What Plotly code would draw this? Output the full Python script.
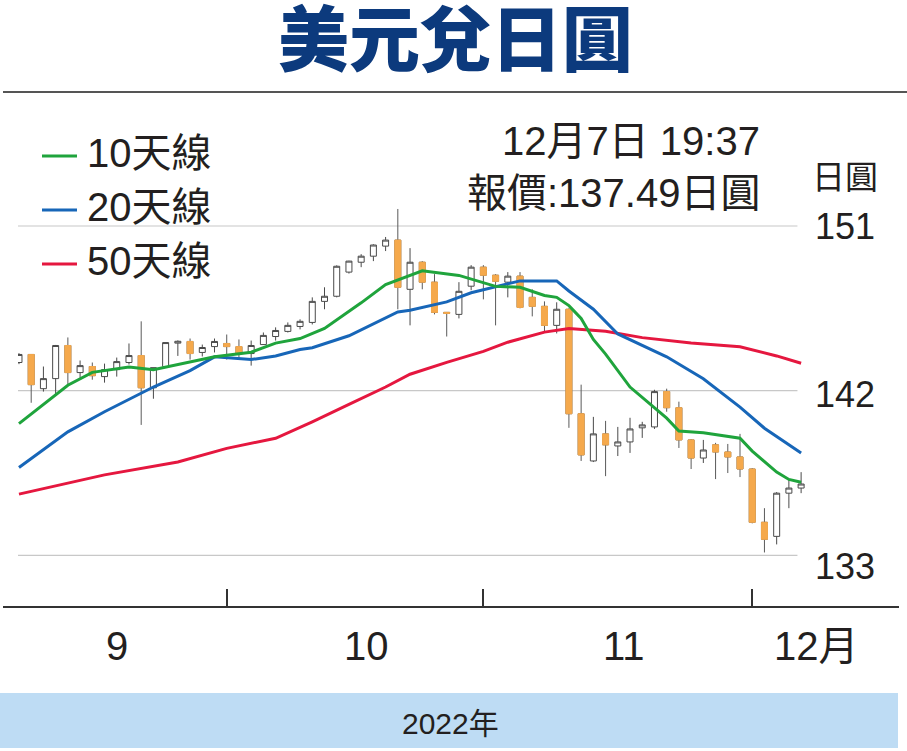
import pandas as pd
import plotly.graph_objects as go

# trading days shown: 8 Sep 2022 - 7 Dec 2022
DATES = pd.bdate_range("2022-09-08", "2022-12-07")

OPEN = [143.54, 143.98, 142.11, 142.66, 144.47, 142.99, 143.32, 142.77, 143.15, 143.54,
        143.92, 142.16, 143.32, 144.60, 144.69, 144.09, 144.41, 144.58, 144.41, 144.03,
        144.52, 144.96, 145.24, 145.51, 145.73, 146.88, 147.16, 148.48, 149.02, 149.35,
        149.90, 150.23, 147.54, 149.02, 147.93, 146.28, 146.17, 147.71, 148.75, 148.31,
        147.93, 148.26, 147.10, 146.61, 145.57, 146.45, 140.74, 138.16, 139.64, 138.98,
        139.20, 139.97, 140.02, 141.95, 141.07, 139.31, 138.32, 139.04, 138.65, 138.38,
        137.72, 134.81, 134.04, 136.40, 136.68]
HIGH = [144.05, 144.00, 143.32, 144.50, 144.91, 143.65, 143.54, 143.48, 143.81, 144.58,
        145.79, 143.26, 144.63, 144.75, 144.85, 144.52, 144.85, 145.07, 144.80, 144.74,
        145.18, 145.46, 145.73, 145.90, 147.10, 147.65, 148.85, 149.10, 149.46, 150.00,
        150.40, 151.93, 149.79, 149.08, 148.37, 146.30, 147.93, 148.86, 148.86, 148.37,
        148.48, 148.48, 147.54, 146.88, 146.83, 146.50, 142.33, 140.57, 140.35, 140.02,
        140.52, 140.30, 142.05, 142.11, 141.40, 139.35, 139.31, 139.15, 139.09, 139.64,
        137.77, 135.58, 136.46, 137.12, 137.55]
LOW = [143.45, 141.34, 141.95, 141.78, 142.33, 142.71, 142.60, 142.44, 142.77, 143.43,
       140.13, 141.56, 143.30, 143.90, 143.70, 143.87, 144.09, 143.70, 143.70, 143.37,
       144.50, 144.74, 145.18, 145.35, 145.62, 146.45, 147.10, 148.40, 148.75, 149.08,
       149.63, 146.45, 145.57, 147.54, 146.17, 144.96, 145.95, 147.49, 146.99, 145.57,
       147.10, 146.50, 146.06, 145.24, 145.13, 139.97, 138.16, 138.10, 137.33, 138.43,
       138.60, 139.42, 139.91, 140.85, 138.87, 137.72, 138.05, 137.17, 137.50, 137.28,
       134.75, 133.16, 133.60, 135.58, 136.40]
CLOSE = [143.98, 142.33, 142.66, 144.47, 142.99, 143.37, 142.82, 143.15, 143.59, 143.92,
         142.16, 143.26, 144.63, 144.70, 144.03, 144.36, 144.69, 144.41, 144.03, 144.47,
         145.02, 145.29, 145.57, 145.79, 146.88, 147.16, 148.80, 149.08, 149.35, 149.96,
         150.23, 147.65, 149.02, 147.93, 146.28, 146.23, 147.43, 148.75, 148.31, 147.98,
         148.26, 146.55, 146.61, 145.57, 146.45, 140.74, 138.49, 139.64, 139.04, 139.20,
         139.91, 140.13, 141.95, 141.07, 139.31, 138.32, 138.76, 138.65, 138.38, 137.72,
         134.81, 133.88, 136.40, 136.68, 136.90]

# moving averages, read at these trading-day numbers
MA10_DAY = [0, 4, 6, 9, 11, 14, 16, 19, 21, 23, 25, 28, 30, 33, 36, 39, 41, 43, 44, 45,
            46, 47, 48, 50, 52, 53, 54, 56, 59, 60, 62, 63, 64]
MA10 = [140.2, 142.3, 143.0, 143.3, 143.15, 143.55, 143.85, 144.1, 144.6, 144.85,
        145.4, 146.8, 147.8, 148.55, 148.3, 147.7, 147.65, 147.2, 147.1, 146.65,
        145.95, 144.8, 144.0, 142.2, 141.1, 140.5, 139.8, 139.7, 139.4, 138.7,
        137.55, 137.15, 137.0]
MA20_DAY = [0, 4, 7, 11, 14, 16, 19, 21, 23, 24, 27, 29, 31, 32, 35, 37, 41, 44, 45, 47,
            49, 53, 56, 59, 61, 64]
MA20 = [137.8, 139.75, 140.85, 142.2, 143.1, 143.85, 143.7, 143.9, 144.25, 144.35,
        145.0, 145.65, 146.3, 146.4, 146.85, 147.35, 148.0, 148.0, 147.45, 146.45,
        145.1, 143.85, 142.65, 141.1, 139.95, 138.6]
MA50_DAY = [0, 7, 13, 17, 21, 24, 27, 30, 32, 35, 38, 40, 43, 45, 48, 51, 55, 59, 62, 64]
MA50 = [136.35, 137.4, 138.1, 138.85, 139.4, 140.3, 141.25, 142.2, 142.9, 143.55,
        144.15, 144.65, 145.2, 145.4, 145.25, 144.9, 144.6, 144.4, 143.9, 143.5]

Y_TICKS = [151, 142, 133]
MONTH_LABELS = ["9", "10", "11", "12月"]
TITLE = "美元兌日圓"
STAMP = ["12月7日 19:37", "報價:137.49日圓"]
UNIT = "日圓"
YEAR = "2022年"

# ---- geometry (pixels of the 907x751 page) ----
W, H = 907, 751
ML, MR, MT, MB = 18, 101, 200, 144
PW, PH = W - ML - MR, H - MT - MB


def px(x):
    return (x - ML) / PW


def py(y):
    return (H - MB - y) / PH


FONT = "Liberation Sans, Noto Sans CJK TC, sans-serif"
INK = "#231f20"
ORANGE = "#f5a94c"
GREEN = "#1fa43c"
BLUE = "#1766b8"
RED = "#e5173f"

day = list(range(len(DATES)))
is_down = [c < o for o, c in zip(OPEN, CLOSE)]

fig = go.Figure()

# candles: wicks + outlines
fig.add_trace(go.Candlestick(
    x=day, open=OPEN, high=HIGH, low=LOW, close=CLOSE,
    increasing=dict(line=dict(color="#4a4a4a", width=1), fillcolor="white"),
    decreasing=dict(line=dict(color="#5a5a5a", width=1), fillcolor=ORANGE),
    hoverinfo="skip", showlegend=False,
))
# orange bodies drawn again on top so they have no dark outline
fig.add_trace(go.Candlestick(
    x=day,
    open=[o if d else None for o, d in zip(OPEN, is_down)],
    high=[o if d else None for o, d in zip(OPEN, is_down)],
    low=[c if d else None for c, d in zip(CLOSE, is_down)],
    close=[c if d else None for c, d in zip(CLOSE, is_down)],
    increasing=dict(line=dict(color=ORANGE, width=1), fillcolor=ORANGE),
    decreasing=dict(line=dict(color=ORANGE, width=1), fillcolor=ORANGE),
    hoverinfo="skip", showlegend=False,
))

for name, xs, ys, color in [("50天線", MA50_DAY, MA50, RED),
                             ("20天線", MA20_DAY, MA20, BLUE),
                             ("10天線", MA10_DAY, MA10, GREEN)]:
    fig.add_trace(go.Scatter(x=xs, y=ys, mode="lines", name=name,
                             line=dict(color=color, width=3), showlegend=False,
                             hoverinfo="skip"))

month_start = [i for i in day if i > 0 and DATES[i].month != DATES[i - 1].month]

shapes = []
for v in Y_TICKS:
    shapes.append(dict(type="line", xref="x", yref="y", x0=-0.1, x1=63.7, y0=v, y1=v,
                       line=dict(color="#c8c8c8", width=1.2), layer="below"))
# bottom axis line, wider than the plot
shapes.append(dict(type="line", xref="paper", yref="paper", x0=px(3), x1=px(899),
                   y0=0, y1=0, line=dict(color="#333333", width=2.2)))
# rule under the title
shapes.append(dict(type="line", xref="paper", yref="paper", x0=px(3), x1=px(907),
                   y0=py(92), y1=py(92), line=dict(color="#555555", width=2)))
# year band
shapes.append(dict(type="rect", xref="paper", yref="paper", x0=px(0), x1=px(898),
                   y0=py(748), y1=py(693), fillcolor="#bedcf4", line=dict(width=0),
                   layer="below"))

annotations = [
    dict(text=TITLE, x=px(456), y=py(34), font=dict(size=71, color="#0c3a7d", weight=900,
                                                   family="Noto Sans CJK TC")),
    dict(text=STAMP[0], x=px(762), y=py(141), xanchor="right", font=dict(size=40)),
    dict(text=STAMP[1], x=px(762), y=py(193), xanchor="right", font=dict(size=40)),
    dict(text=UNIT, x=px(845), y=py(177), font=dict(size=33)),
    dict(text=YEAR, x=px(450), y=py(723), font=dict(size=30)),
]
for v, shift in zip(Y_TICKS, [-1, -4, -11]):
    annotations.append(dict(text=str(v), yref="y", x=px(845), y=v,
                            yshift=shift, font=dict(size=36)))
for label, pos in zip(MONTH_LABELS, [117, 366, 624, 816]):
    annotations.append(dict(text=label, x=px(pos), y=py(646), font=dict(size=40)))

# legend drawn by hand
for (name, color), ty in zip([("10天線", GREEN), ("20天線", BLUE), ("50天線", RED)],
                             [153, 207, 261]):
    shapes.append(dict(type="line", xref="paper", yref="paper", x0=px(42), x1=px(77),
                       y0=py(ty + 3), y1=py(ty + 3), line=dict(color=color, width=3)))
    annotations.append(dict(text=name, x=px(85), y=py(ty), xanchor="left",
                            font=dict(size=40)))

for a in annotations:
    a.setdefault("xref", "paper")
    a.setdefault("yref", "paper")
    a.setdefault("xanchor", "center")
    a.setdefault("yanchor", "middle")
    a.setdefault("showarrow", False)
    a["font"].setdefault("family", FONT)
    a["font"].setdefault("color", INK)

fig.update_layout(
    width=W, height=H,
    margin=dict(l=ML, r=MR, t=MT, b=MB),
    paper_bgcolor="white", plot_bgcolor="white",
    shapes=shapes, annotations=annotations,
    showlegend=False,
)
fig.update_xaxes(
    range=[-0.08, 64.4], rangeslider_visible=False,
    showgrid=False, zeroline=False, showline=False,
    tickmode="array", tickvals=month_start, ticktext=[""] * len(month_start),
    ticks="inside", ticklen=18, tickwidth=1.5, tickcolor="#333333",
    showticklabels=False, fixedrange=True,
)
fig.update_yaxes(
    range=[130.18, 152.42], showgrid=False, zeroline=False, showline=False,
    showticklabels=False, ticks="", fixedrange=True,
)

fig.write_html("out.html", config={"displayModeBar": False},
               post_script="document.body.style.margin = '0';")
